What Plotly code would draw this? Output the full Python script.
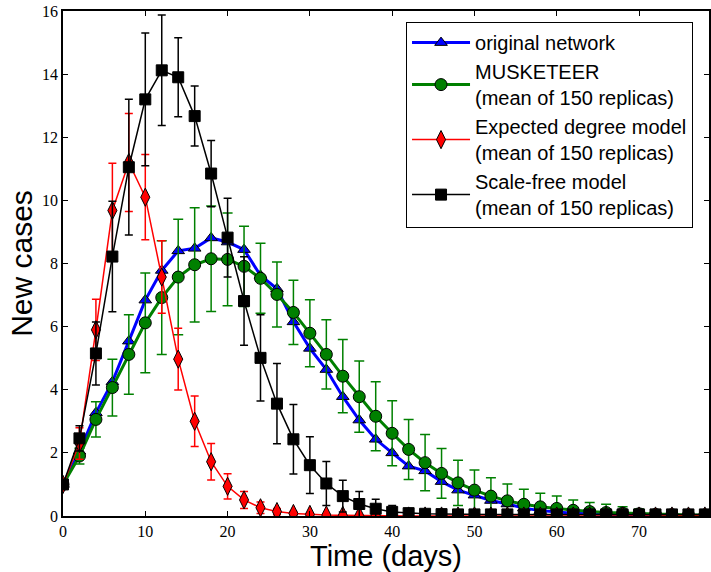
import plotly.graph_objects as go

days = list(range(0, 80, 2))

original = [1.0, 2.05, 3.27, 4.25, 5.54, 6.84, 7.78, 8.40, 8.48, 8.81,
            8.68, 8.44, 7.62, 7.20, 6.15, 5.31, 4.64, 3.78, 3.04, 2.43,
            2.00, 1.58, 1.43, 1.09, 0.82, 0.66, 0.49, 0.38, 0.25, 0.17,
            0.12, 0.09, 0.07, 0.05, 0.04, 0.03, 0.02, 0.02, 0.01, 0.01]

musketeer = [1.0, 1.90, 3.06, 4.07, 5.12, 6.12, 6.92, 7.57, 7.96, 8.15,
             8.13, 7.91, 7.53, 7.02, 6.45, 5.79, 5.12, 4.43, 3.78, 3.16,
             2.62, 2.11, 1.69, 1.35, 1.05, 0.82, 0.63, 0.48, 0.37, 0.29,
             0.24, 0.18, 0.14, 0.11, 0.09, 0.07, 0.05, 0.04, 0.03, 0.03]
musketeer_err = [0.0, 0.25, 0.56, 0.90, 1.26, 1.58, 1.80, 1.83, 1.81, 1.67,
                 1.47, 1.27, 1.11, 1.03, 1.02, 1.06, 1.10, 1.16, 1.13, 1.09,
                 1.03, 0.95, 0.89, 0.79, 0.72, 0.64, 0.58, 0.53, 0.48, 0.43,
                 0.39, 0.33, 0.29, 0.26, 0.20, 0.15, 0.12, 0.08, 0.07, 0.06]

expected = [1.0, 2.30, 5.90, 9.68, 11.20, 10.10, 7.57, 4.97, 3.00, 1.72,
            0.94, 0.51, 0.26, 0.14, 0.08, 0.05, 0.03, 0.02, 0.01, 0.01,
            0.0, 0.0, 0.0, 0.0, 0.0, 0.0, 0.0, 0.0, 0.0, 0.0,
            0.0, 0.0, 0.0, 0.0, 0.0, 0.0, 0.0, 0.0, 0.0, 0.0]
expected_err = [0.0, 0.50, 0.97, 1.50, 1.55, 1.35, 1.15, 0.98, 0.80, 0.58,
                0.40, 0.27, 0.18, 0.10, 0.06, 0.04, 0.03, 0.02, 0.02, 0.01,
                0.01, 0.0, 0.0, 0.0, 0.0, 0.0, 0.0, 0.0, 0.0, 0.0,
                0.0, 0.0, 0.0, 0.0, 0.0, 0.0, 0.0, 0.0, 0.0, 0.0]

scalefree = [1.0, 2.46, 5.15, 8.22, 11.05, 13.20, 14.12, 13.90, 12.67, 10.85,
             8.82, 6.81, 5.01, 3.56, 2.43, 1.61, 1.03, 0.63, 0.38, 0.23,
             0.13, 0.09, 0.07, 0.06, 0.05, 0.05, 0.05, 0.05, 0.05, 0.05,
             0.05, 0.05, 0.05, 0.05, 0.05, 0.05, 0.05, 0.05, 0.05, 0.05]
scalefree_err = [0.0, 0.40, 1.00, 1.75, 2.15, 2.10, 1.75, 1.25, 0.95, 1.05,
                 1.25, 1.40, 1.37, 1.27, 1.10, 0.90, 0.70, 0.50, 0.40, 0.30,
                 0.20, 0.15, 0.10, 0.08, 0.06, 0.05, 0.05, 0.05, 0.05, 0.05,
                 0.05, 0.05, 0.05, 0.05, 0.05, 0.05, 0.05, 0.05, 0.05, 0.05]

GREEN = "#008000"

fig = go.Figure()
fig.add_trace(go.Scatter(
    x=days, y=original, mode="lines+markers", name="original network",
    line=dict(color="#0000FF", width=3),
    marker=dict(symbol="triangle-up", size=11, color="#0000FF",
                line=dict(color="black", width=1)),
))
fig.add_trace(go.Scatter(
    x=days, y=musketeer, mode="lines+markers",
    name="MUSKETEER<br>(mean of 150 replicas)",
    line=dict(color=GREEN, width=3),
    marker=dict(symbol="circle", size=12, color=GREEN,
                line=dict(color="black", width=1)),
    error_y=dict(type="data", array=musketeer_err, color=GREEN,
                 thickness=1.5, width=5),
))
fig.add_trace(go.Scatter(
    x=days, y=expected, mode="lines+markers",
    name="Expected degree model<br>(mean of 150 replicas)",
    line=dict(color="#FF0000", width=1.5),
    marker=dict(symbol="diamond-tall", size=13, color="#FF0000",
                line=dict(color="black", width=1)),
    error_y=dict(type="data", array=expected_err, color="#FF0000",
                 thickness=1.5, width=4),
))
fig.add_trace(go.Scatter(
    x=days, y=scalefree, mode="lines+markers",
    name="Scale-free model<br>(mean of 150 replicas)",
    line=dict(color="black", width=1.5),
    marker=dict(symbol="square", size=11, color="black",
                line=dict(color="black", width=1)),
    error_y=dict(type="data", array=scalefree_err, color="black",
                 thickness=1.5, width=4),
))

tickfont = dict(family="Liberation Serif", size=16, color="black")
fig.update_layout(
    width=711, height=572,
    margin=dict(l=63, r=0, t=11, b=56),
    paper_bgcolor="white", plot_bgcolor="white",
    font=dict(family="Liberation Sans", color="black"),
    legend=dict(
        x=0.531, y=0.978, xanchor="left", yanchor="top",
        bgcolor="white", bordercolor="black", borderwidth=1,
        font=dict(family="Liberation Sans", size=20, color="black"),
        itemwidth=58, tracegroupgap=0,
    ),
    xaxis=dict(
        range=[0, 78.5], dtick=10, tick0=0,
        showgrid=False, zeroline=False,
        showline=True, linecolor="black", linewidth=1.5, mirror="ticks",
        ticks="inside", ticklen=5, tickcolor="black", tickwidth=1,
        tickfont=tickfont,
        title=dict(text="Time (days)", font=dict(family="Liberation Sans", size=29), standoff=3),
    ),
    yaxis=dict(
        range=[0, 16], dtick=2, tick0=0,
        showgrid=False, zeroline=False,
        showline=True, linecolor="black", linewidth=1.5, mirror="ticks",
        ticks="inside", ticklen=5, tickcolor="black", tickwidth=1,
        tickfont=tickfont,
        title=dict(text="New cases", font=dict(family="Liberation Sans", size=30), standoff=1),
    ),
)

fig.write_html("out.html")
